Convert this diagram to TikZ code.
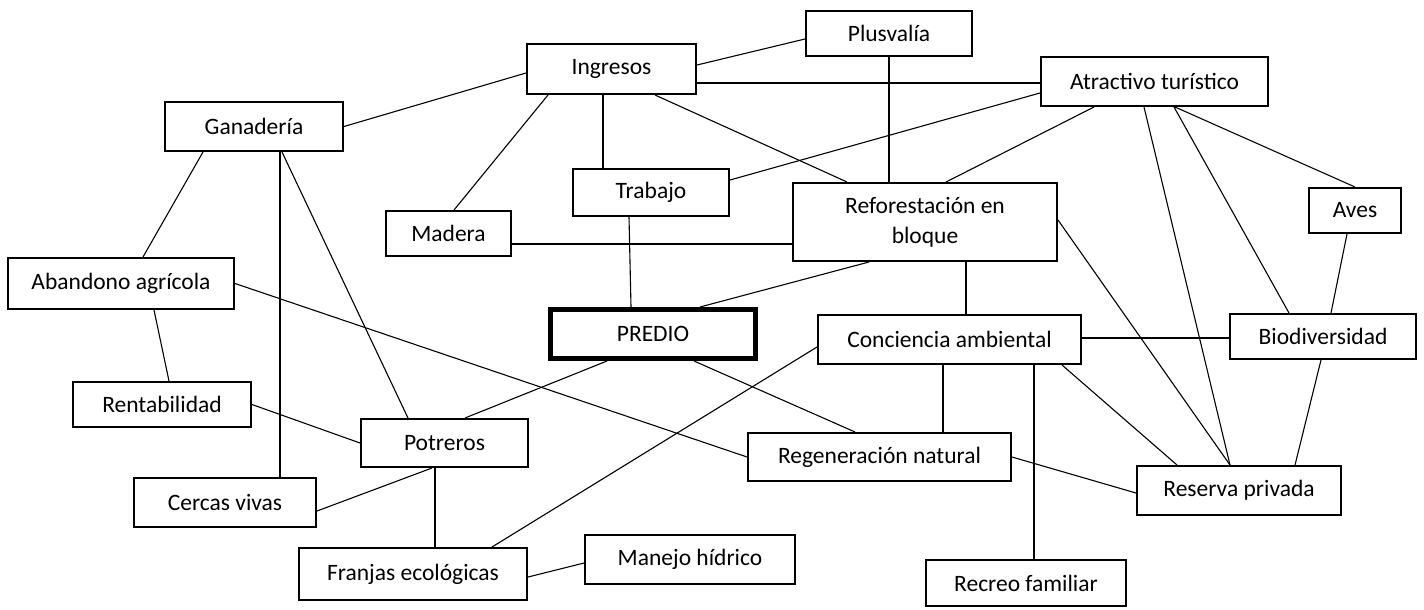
\documentclass[tikz,border=0pt]{standalone}
\usepackage{fontspec}
\setmainfont{Carlito}
\begin{document}
\begin{tikzpicture}[x=1pt,y=-1pt,
  box/.style={draw=black, line width=2pt, inner sep=0pt, align=center,
    font=\fontsize{23.5}{30}\selectfont},
  mainbox/.style={box, line width=5pt},
  link/.style={draw=black, line width=1.1pt}]
\useasboundingbox (0,0) rectangle (1424,610);
\fill[white] (0,0) rectangle (1424,610);
% nodes
\node[box, minimum width=166pt, minimum height=45pt] (plus) at (889,33.5) {Plusvalía};
\node[box, minimum width=169pt, minimum height=50pt] (ing) at (611.5,69) {Ingresos};
\node[box, minimum width=227pt, minimum height=49pt] (atr) at (1154.5,81.5) {Atractivo turístico};
\node[box, minimum width=178pt, minimum height=49pt] (gan) at (254,126.5) {Ganadería};
\node[box, minimum width=156pt, minimum height=47pt] (trab) at (651,192.5) {Trabajo};
\node[box, minimum width=264pt, minimum height=78pt] (ref) at (925,222) {Reforestación en\\bloque};
\node[box, minimum width=125pt, minimum height=45pt] (mad) at (448.5,233.5) {Madera};
\node[box, minimum width=92pt, minimum height=45pt] (aves) at (1355,210.5) {Aves};
\node[box, minimum width=226pt, minimum height=51pt] (aba) at (121,283.5) {Abandono agrícola};
\node[mainbox, minimum width=205pt, minimum height=49pt] (pred) at (653,334) {PREDIO};
\node[box, minimum width=263pt, minimum height=49pt] (conc) at (949.5,339.5) {Conciencia ambiental};
\node[box, minimum width=186pt, minimum height=45pt] (bio) at (1323,336.5) {Biodiversidad};
\node[box, minimum width=178pt, minimum height=45pt] (rent) at (162,404.5) {Rentabilidad};
\node[box, minimum width=167pt, minimum height=48pt] (pot) at (444.5,443) {Potreros};
\node[box, minimum width=263pt, minimum height=48pt] (reg) at (879.5,457) {Regeneración natural};
\node[box, minimum width=182pt, minimum height=49pt] (cer) at (225,502.5) {Cercas vivas};
\node[box, minimum width=204pt, minimum height=49pt] (res) at (1239,490.5) {Reserva privada};
\node[box, minimum width=210pt, minimum height=49pt] (man) at (690,559.5) {Manejo hídrico};
\node[box, minimum width=228pt, minimum height=52pt] (fra) at (413,574) {Franjas ecológicas};
\node[box, minimum width=200pt, minimum height=46pt] (rec) at (1026,583) {Recreo familiar};
% connectors
\draw[link] (gan.east) -- ([yshift=-4pt]ing.west);
\draw[link] ([xshift=-51pt]gan.south) -- ([xshift=22pt]aba.north);
\draw[link] ([xshift=26pt]gan.south) -- ([xshift=55pt]cer.north);
\draw[link] ([xshift=28pt]gan.south) -- ([xshift=-36.5pt]pot.north);
\draw[link] (aba.east) -- (reg.west);
\draw[link] ([xshift=33pt]aba.south) -- ([xshift=7pt]rent.north);
\draw[link] (rent.east) -- (pot.west);
\draw[link] ([yshift=-8.5pt]cer.east) -- ([xshift=-12.5pt]pot.south);
\draw[link] ([xshift=-9.5pt]pot.south) -- ([xshift=22pt]fra.north);
\draw[link] ([xshift=20.5pt]pot.north) -- ([xshift=-46pt]pred.south);
\draw[link] ([yshift=-3pt]fra.east) -- ([yshift=-3.5pt]man.west);
\draw[link] ([xshift=79pt]fra.north) -- ([yshift=-7.5pt]conc.west);
\draw[link] ([yshift=4pt]ing.east) -- ([yshift=-5.5pt]plus.west);
\draw[link] ([yshift=-14pt]ing.east) -- ([yshift=-1.5pt]atr.west);
\draw[link] ([xshift=-63.5pt]ing.south) -- ([xshift=5.5pt]mad.north);
\draw[link] ([xshift=-8.5pt]ing.south) -- ([xshift=-48pt]trab.north);
\draw[link] ([xshift=43.5pt]ing.south) -- ([xshift=-78pt]ref.north);
\draw[link] ([yshift=12.5pt]trab.east) -- ([yshift=-11.5pt]atr.west);
\draw[link] ([xshift=-22pt]trab.south) -- ([xshift=-22pt]pred.north);
\draw[link] ([yshift=-10.5pt]mad.east) -- ([yshift=-22pt]ref.west);
\draw[link] (plus.south) -- ([xshift=-36pt]ref.north);
\draw[link] ([xshift=-56pt]ref.south) -- ([xshift=47pt]pred.north);
\draw[link] ([xshift=21pt]ref.north) -- ([xshift=-60.5pt]atr.south);
\draw[link] ([xshift=41pt]ref.south) -- ([xshift=16.5pt]conc.north);
\draw[link] ([yshift=2pt]ref.east) -- ([xshift=-9pt]res.north);
\draw[link] ([xshift=-10.5pt]atr.south) -- ([xshift=-9pt]res.north);
\draw[link] ([xshift=19.5pt]atr.south) -- ([xshift=-34pt]bio.north);
\draw[link] ([xshift=20.5pt]atr.south) -- (aves.north);
\draw[link] ([xshift=-8pt]aves.south) -- ([xshift=8pt]bio.north);
\draw[link] ([yshift=1.5pt]conc.east) -- ([yshift=-1.5pt]bio.west);
\draw[link] ([xshift=-6.5pt]conc.south) -- ([xshift=63.5pt]reg.north);
\draw[link] ([xshift=84.5pt]conc.south) -- ([xshift=8pt]rec.north);
\draw[link] ([xshift=112.5pt]conc.south) -- ([xshift=-62pt]res.north);
\draw[link] ([xshift=-2pt]bio.south) -- ([xshift=56pt]res.north);
\draw[link] (reg.east) -- ([yshift=-2.5pt]res.west);
\draw[link] ([xshift=41pt]pred.south) -- ([xshift=-24.5pt]reg.north);
\end{tikzpicture}
\end{document}
